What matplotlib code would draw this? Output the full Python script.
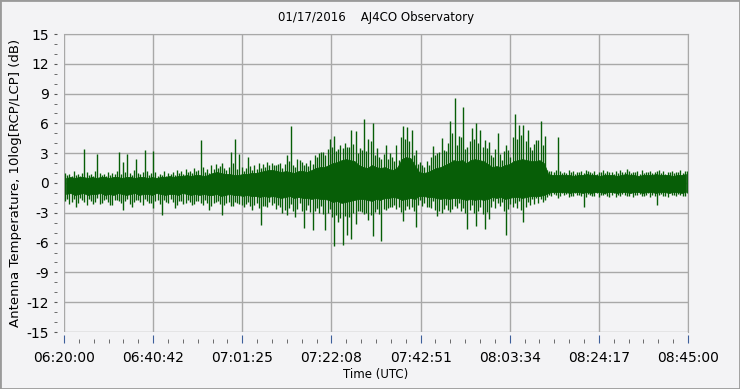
import matplotlib.pyplot as plt
from matplotlib.patches import Rectangle
import numpy as np

# minutes after 06:20:00 UTC, one bin per minute
minutes = np.arange(145)

# per-minute max / min of 10log(RCP/LCP) in dB
hi = [0.8, 0.7, 0.8, 0.7, 3.4, 0.8, 0.7, 2.9, 0.8, 0.7,
      0.8, 0.9, 3.15, 2.1, 2.9, 0.8, 2.4, 0.9, 3.3, 0.8,
      3.2, 0.7, 0.8, 0.7, 0.9, 0.8, 1.0, 0.9, 1.1, 1.0,
      1.2, 4.3, 1.1, 1.0, 1.4, 1.5, 2.0, 1.3, 3.1, 4.4,
      2.9, 1.2, 2.6, 1.3, 1.4, 1.5, 1.6, 1.8, 1.8, 1.9,
      1.5, 2.8, 5.7, 1.6, 2.3, 1.8, 1.7, 1.9, 2.6, 3.1,
      2.8, 4.4, 4.7, 3.4, 3.5, 3.6, 5.3, 5.2, 3.5, 6.4,
      4.4, 6.0, 3.5, 2.4, 3.8, 3.0, 2.2, 2.3, 5.7, 5.6,
      5.3, 3.3, 2.1, 1.6, 1.8, 3.7, 3.0, 4.5, 3.2, 6.2,
      8.6, 4.7, 7.7, 3.6, 5.5, 6.0, 5.3, 4.3, 4.1, 2.6,
      5.0, 2.3, 3.8, 2.6, 6.9, 5.8, 5.8, 5.3, 3.3, 4.3,
      6.2, 4.7, 1.2, 1.1, 4.6, 1.0,
      1.0, 1.1, 0.9, 1.1, 1.0, 1.2, 1.0, 0.9, 1.1, 1.0,
      1.1, 0.9, 1.0, 1.1, 1.4, 1.0, 1.1, 0.9, 1.0, 1.1,
      1.0, 1.2, 1.0, 0.9, 1.1, 1.0, 1.1, 1.0, 1.2]
lo = [-1.6, -1.9, -2.4, -1.5, -1.9, -1.6, -2.1, -1.5, -2.0, -1.6,
      -2.2, -1.7, -1.8, -2.7, -1.6, -2.4, -1.7, -1.9, -1.6, -2.0,
      -2.5, -1.7, -3.2, -1.9, -1.6, -2.5, -1.8, -2.1, -1.7, -2.2,
      -1.8, -2.0, -1.7, -2.7, -2.0, -1.8, -3.2, -2.0, -2.3, -1.9,
      -2.1, -2.4, -1.9, -2.7, -2.0, -4.2, -2.3, -1.9, -2.0, -2.2,
      -3.0, -3.2, -2.1, -3.4, -2.0, -4.5, -2.2, -4.7, -2.5, -2.3,
      -4.7, -2.6, -6.3, -3.9, -6.2, -5.2, -5.6, -4.1, -2.8, -3.1,
      -3.7, -5.3, -2.6, -5.8, -2.7, -2.4, -2.2, -2.4, -3.8, -2.3,
      -2.4, -4.4, -1.7, -2.0, -2.4, -1.8, -3.3, -3.0, -2.2, -2.9,
      -2.3, -2.0, -2.5, -4.6, -2.2, -4.3, -2.4, -4.6, -3.6, -1.8,
      -2.0, -1.9, -5.2, -2.1, -2.0, -1.8, -3.9, -1.9, -1.6, -1.5,
      -1.6, -1.7, -1.2, -1.1, -1.5, -1.0,
      -1.1, -1.3, -1.0, -1.2, -2.4, -1.1, -1.3, -1.0, -1.2, -1.1,
      -1.4, -1.0, -1.2, -1.1, -1.3, -1.0, -1.2, -1.1, -1.3, -1.0,
      -1.2, -2.2, -1.1, -1.3, -1.0, -1.2, -1.1, -1.3, -1.0]

# secondary spikes, half a minute off the main ones
hi2 = [1.0, 0.9, 1.2, 0.9, 1.0, 1.1, 0.9, 1.2, 1.0, 0.9,
       1.1, 1.0, 1.2, 0.9, 1.1, 1.0, 1.3, 1.0, 1.1, 1.2,
       1.0, 1.1, 0.9, 1.2, 1.0, 1.1, 1.3, 1.2, 1.4, 1.2,
       1.5, 1.3, 1.6, 1.4, 1.8, 1.9, 1.7, 1.5, 1.6, 2.0,
       1.4, 1.6, 1.5, 1.7, 1.8, 2.0, 1.9, 2.1, 2.0, 1.8,
       2.0, 1.9, 2.2, 1.8, 2.4, 2.1, 2.0, 2.3, 2.8, 3.0,
       3.1, 3.4, 3.6, 3.2, 3.8, 4.0, 3.6, 3.9, 3.0, 3.3,
       3.2, 4.2, 2.8, 2.6, 2.9, 2.4, 2.6, 3.8, 4.6, 4.4,
       4.2, 2.8, 1.9, 1.8, 2.2, 2.6, 2.8, 3.1, 3.3, 4.0,
       5.0, 3.8, 4.6, 3.4, 4.2, 4.4, 4.0, 3.6, 3.5, 2.8,
       3.4, 2.9, 3.2, 3.3, 4.6, 4.4, 4.8, 4.2, 3.6, 3.9,
       4.3, 3.8, 1.3, 1.2, 1.3, 1.2,
       1.1, 1.3, 1.2, 1.1, 1.2, 1.3, 1.1, 1.2, 1.1, 1.3,
       1.2, 1.1, 1.2, 1.3, 1.1, 1.2, 1.1, 1.2, 1.3, 1.1,
       1.2, 1.1, 1.3, 1.2, 1.1, 1.2, 1.1, 1.3, 1.2]
lo2 = [-1.8, -2.1, -1.6, -2.0, -1.7, -2.2, -1.8, -1.9, -2.1, -1.7,
       -1.9, -2.2, -1.7, -2.0, -1.8, -2.1, -1.9, -1.7, -2.2, -1.8,
       -2.0, -1.8, -2.1, -1.7, -2.0, -1.9, -2.2, -1.8, -2.0, -1.9,
       -2.1, -1.8, -2.2, -2.0, -2.3, -1.9, -2.1, -2.2, -1.9, -2.3,
       -2.0, -2.2, -2.1, -2.3, -2.2, -2.5, -2.3, -2.4, -2.2, -2.6,
       -2.4, -2.7, -2.5, -2.8, -2.6, -2.8, -2.7, -2.9, -2.8, -3.0,
       -3.1, -3.0, -3.4, -3.2, -3.5, -3.3, -3.4, -3.0, -2.8, -2.9,
       -3.0, -3.2, -2.9, -3.1, -2.6, -2.5, -2.4, -2.6, -2.9, -2.7,
       -2.6, -2.8, -2.2, -2.3, -2.4, -2.5, -2.7, -2.8, -2.6, -2.7,
       -2.6, -2.5, -2.8, -3.0, -2.7, -3.0, -2.8, -3.1, -2.9, -2.4,
       -2.5, -2.3, -2.8, -2.6, -2.4, -2.5, -2.7, -2.4, -2.2, -2.1,
       -2.0, -1.9, -1.4, -1.3, -1.2, -1.3,
       -1.2, -1.4, -1.3, -1.2, -1.3, -1.4, -1.2, -1.3, -1.4, -1.2,
       -1.3, -1.2, -1.4, -1.3, -1.2, -1.3, -1.4, -1.2, -1.3, -1.2,
       -1.4, -1.3, -1.2, -1.3, -1.4, -1.2, -1.3, -1.2, -1.3]

# dense core of the trace (where the samples overlap solidly)
core_hi = [0.5, 0.6, 0.5, 0.6, 0.6, 0.5, 0.6, 0.5, 0.6, 0.6,
           0.5, 0.6, 0.6, 0.5, 0.6, 0.6, 0.5, 0.6, 0.6, 0.5,
           0.6, 0.5, 0.6, 0.6, 0.7, 0.6, 0.7, 0.7, 0.8, 0.7,
           0.8, 0.8, 0.7, 0.8, 1.0, 1.1, 1.0, 0.9, 0.9, 0.8,
           0.8, 0.9, 0.9, 1.0, 1.0, 1.1, 1.2, 1.3, 1.3, 1.2,
           1.1, 1.2, 1.1, 1.0, 1.2, 1.2, 1.1, 1.3, 1.5, 1.6,
           1.6, 1.8, 2.0, 2.1, 2.3, 2.4, 2.3, 2.2, 1.8, 1.6,
           1.5, 1.8, 1.6, 1.5, 1.6, 1.4, 1.3, 1.6, 2.4, 2.6,
           2.5, 1.8, 1.1, 1.0, 1.1, 1.3, 1.5, 1.6, 1.8, 2.0,
           2.3, 2.2, 2.3, 2.0, 2.3, 2.4, 2.3, 2.2, 1.9, 1.6,
           1.7, 1.6, 1.8, 1.9, 2.2, 2.3, 2.4, 2.3, 2.2, 2.2,
           2.3, 2.0, 0.9, 0.8, 0.8, 0.8,
           0.8, 0.8, 0.7, 0.8, 0.8, 0.9, 0.8, 0.8, 0.7, 0.8,
           0.8, 0.8, 0.7, 0.8, 0.9, 0.8, 0.8, 0.7, 0.8, 0.8,
           0.8, 0.9, 0.8, 0.8, 0.8, 0.7, 0.8, 0.8, 0.9]
core_lo = [-1.1, -1.0, -1.2, -1.1, -1.0, -1.2, -1.1, -1.1, -1.0, -1.2,
           -1.1, -1.2, -1.0, -1.1, -1.2, -1.1, -1.0, -1.2, -1.1, -1.1,
           -1.2, -1.0, -1.1, -1.2, -1.1, -1.1, -1.2, -1.0, -1.1, -1.2,
           -1.1, -1.2, -1.1, -1.2, -1.2, -1.1, -1.3, -1.2, -1.1, -1.2,
           -1.2, -1.3, -1.2, -1.3, -1.3, -1.4, -1.3, -1.4, -1.3, -1.4,
           -1.5, -1.4, -1.3, -1.5, -1.4, -1.5, -1.5, -1.6, -1.5, -1.6,
           -1.6, -1.7, -1.9, -1.8, -2.0, -1.9, -1.8, -1.7, -1.6, -1.6,
           -1.7, -1.8, -1.6, -1.7, -1.5, -1.5, -1.4, -1.5, -1.7, -1.6,
           -1.5, -1.6, -1.3, -1.3, -1.4, -1.4, -1.5, -1.6, -1.5, -1.6,
           -1.5, -1.5, -1.6, -1.7, -1.6, -1.7, -1.6, -1.7, -1.6, -1.4,
           -1.5, -1.4, -1.6, -1.5, -1.4, -1.4, -1.5, -1.4, -1.3, -1.3,
           -1.3, -1.2, -1.0, -0.9, -0.9, -0.9,
           -0.9, -1.0, -0.9, -0.9, -1.0, -0.9, -1.0, -0.9, -0.9, -1.0,
           -0.9, -0.9, -1.0, -0.9, -0.9, -1.0, -0.9, -0.9, -1.0, -0.9,
           -0.9, -1.0, -0.9, -0.9, -1.0, -0.9, -0.9, -1.0, -0.9]

xlabels = ['06:20:00', '06:40:42', '07:01:25', '07:22:08',
           '07:42:51', '08:03:34', '08:24:17', '08:45:00']
yvals = np.arange(-15, 16, 3)

bg = '#f3f3f5'
green = '#075e07'
fig = plt.figure(figsize=(7.4, 3.89), dpi=100, facecolor=bg)
fig.patches.append(Rectangle((0, 0), 1, 1, transform=fig.transFigure,
                             fill=False, edgecolor='#9a9a9a', lw=2))
ax = fig.add_axes([64/740, 57/389, 624/740, 298/389], facecolor=bg)

tc = minutes + 0.5
ax.fill_between(tc, core_lo, core_hi, color=green, lw=0.6, edgecolor=green)
ax.vlines(minutes + 0.25, lo2, hi2, color=green, lw=0.95)
ax.vlines(minutes + 0.75, lo, hi, color=green, lw=1.0)

ax.set_xlim(0, 145)
ax.set_ylim(-15, 15)
xt = np.linspace(0, 145, 8)
ax.set_xticks(xt)
ax.set_xticklabels(xlabels, fontsize=8.5)
ax.set_xticks(np.linspace(0, 145, 43), minor=True)
ax.set_yticks(yvals)
ax.set_yticklabels([str(y) for y in yvals], fontsize=8.5)
ax.set_yticks(np.arange(-15, 16, 1), minor=True)
ax.grid(True, color='#a8a8a8', lw=1)
ax.set_axisbelow(True)

for s in ['top', 'right']:
    ax.spines[s].set_color('#a8a8a8')
ax.spines['bottom'].set_position(('outward', 8))
ax.spines['bottom'].set_color('none')
ax.spines['left'].set_position(('outward', 5))
ax.spines['left'].set_color('none')
ax.tick_params(axis='x', which='major', direction='in', length=6, color='#3d5f9a', pad=6)
ax.tick_params(axis='x', which='minor', direction='in', length=3, color='#555555')
ax.tick_params(axis='y', which='both', direction='out', length=2, color='#555555', pad=4)

ax.set_xlabel('Time (UTC)', fontsize=8.5, labelpad=2)
ax.set_ylabel('Antenna Temperature, 10log[RCP/LCP] (dB)', fontsize=9.5, labelpad=3)
fig.text(376/740, 1 - 18/389, '01/17/2016    AJ4CO Observatory', ha='center', va='center', fontsize=8.5)

fig.savefig('out.png', dpi=100, facecolor=bg)
